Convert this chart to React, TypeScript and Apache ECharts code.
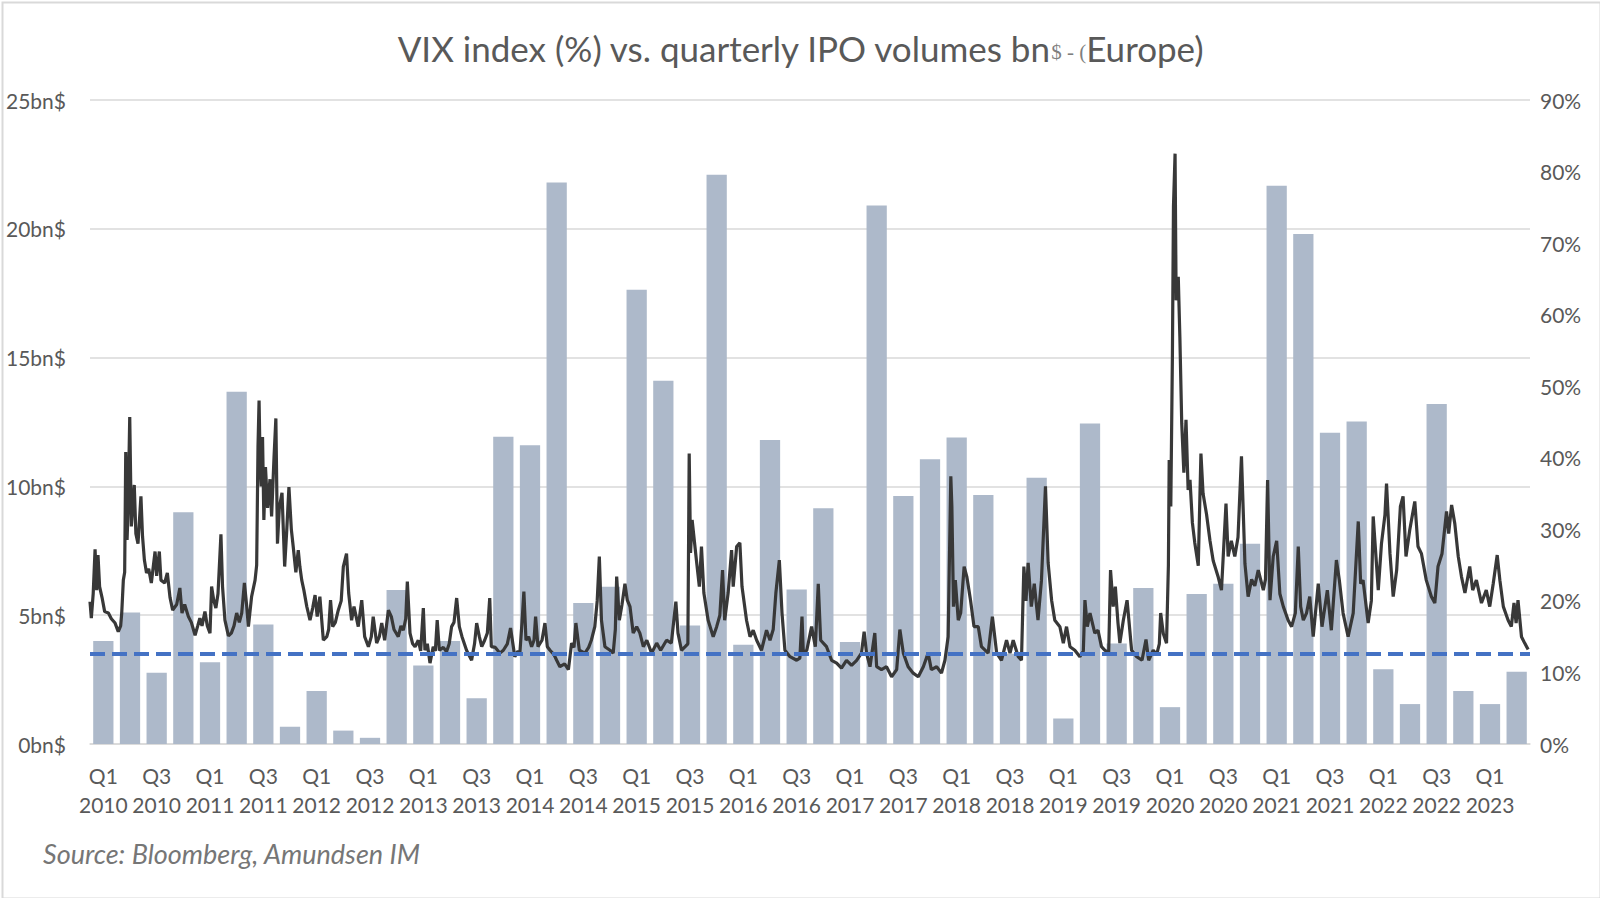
import React, { useEffect, useRef } from "react";
import * as echarts from "echarts";

// ---- Data ----
const years = [2010, 2011, 2012, 2013, 2014, 2015, 2016, 2017, 2018, 2019, 2020, 2021, 2022, 2023];
const quarterNames = ["Q1", "Q2", "Q3", "Q4"];
const quarterCount = 54; // Q1 2010 .. Q2 2023

// Quarterly European IPO volumes (bn$)
const ipoVolumes = [
  4.0, 5.1, 2.77, 9.0,
  3.17, 13.67, 4.64, 0.67,
  2.06, 0.52, 0.24, 5.98,
  3.05, 4.0, 1.78, 11.93,
  11.6, 21.8, 5.47, 6.1,
  17.63, 14.1, 4.6, 22.1,
  3.85, 11.8, 6.0, 9.15,
  3.96, 20.9, 9.63, 11.05,
  11.9, 9.67, 3.5, 10.34,
  0.99, 12.44, 3.9, 6.06,
  1.43, 5.82, 6.22, 7.77,
  21.67, 19.8, 12.08, 12.52,
  2.9, 1.55, 13.2, 2.06,
  1.55, 2.8,
];

// VIX index (%), [position in quarters since 1 Jan 2010, level]
const vixPoints: [number, number][] = [
  [0, 19.9], [0.05, 17.6], [0.12, 21], [0.19, 27.2], [0.25, 21.5], [0.3, 26.4], [0.36, 22], [0.45, 20.5], [0.55, 18.5], [0.69, 18.3], [0.8, 17.5], [0.94, 16.9],
  [1.06, 15.7], [1.15, 16.5], [1.19, 18.3], [1.25, 22.9], [1.3, 24], [1.34, 40.8], [1.39, 28.5], [1.43, 33], [1.49, 45.7], [1.55, 30.4], [1.6, 33], [1.66, 36.2], [1.72, 29.4], [1.8, 28], [1.91, 34.6], [1.97, 29],
  [2.04, 25.7], [2.12, 23.9], [2.2, 24.5], [2.3, 22.5], [2.44, 26.9], [2.5, 23.5], [2.6, 26.9], [2.66, 22.9], [2.8, 22.5], [2.9, 23.9],
  [3.0, 20.5], [3.1, 18.7], [3.25, 19.5], [3.37, 21.8], [3.45, 18.3], [3.55, 19.5], [3.69, 17.8], [3.8, 17], [3.94, 15.2],
  [4.04, 16.5], [4.12, 17.6], [4.2, 16.5], [4.31, 18.5], [4.4, 16.5], [4.5, 15.5], [4.56, 22], [4.64, 20.1], [4.72, 19], [4.8, 21], [4.91, 29.3], [4.97, 22],
  [5.06, 17.3], [5.19, 15.1], [5.3, 15.5], [5.4, 16.5], [5.5, 18.3], [5.6, 17], [5.69, 18.3], [5.79, 22.5], [5.87, 19.5], [5.94, 16.4],
  [6.06, 20.6], [6.19, 22.9], [6.25, 25], [6.3, 41.5], [6.34, 48], [6.38, 39.2], [6.42, 36], [6.47, 42.9], [6.52, 31.3], [6.58, 38.7], [6.66, 33], [6.75, 37], [6.81, 31.8], [6.9, 40], [6.97, 45.5],
  [7.03, 28], [7.1, 33], [7.2, 35.1], [7.3, 24.8], [7.38, 30], [7.46, 35.9], [7.55, 30], [7.62, 27.6], [7.72, 24], [7.81, 27.1], [7.87, 24.8], [7.94, 22.9],
  [8.02, 21.5], [8.13, 19.2], [8.25, 17.3], [8.35, 19], [8.44, 20.8], [8.52, 17.8], [8.62, 20.6], [8.75, 14.5], [8.88, 15], [8.95, 16],
  [9.02, 20.1], [9.1, 16.4], [9.2, 17], [9.31, 18.7], [9.42, 20], [9.5, 24.8], [9.62, 26.6], [9.7, 21.1], [9.81, 17.3], [9.9, 19.2],
  [10.06, 16.4], [10.19, 20.1], [10.3, 15], [10.44, 13.6], [10.55, 15], [10.62, 17.8], [10.75, 14.1], [10.85, 15], [10.94, 16.9],
  [11.05, 14.5], [11.19, 18.7], [11.3, 17.8], [11.4, 16], [11.56, 15], [11.66, 16.5], [11.75, 15.9], [11.84, 17.5], [11.9, 22.7],
  [12.0, 15.5], [12.1, 14], [12.19, 13.6], [12.31, 14.5], [12.4, 13], [12.5, 19], [12.56, 13.1], [12.65, 14], [12.75, 11.3], [12.87, 13.6], [12.95, 13],
  [13.02, 17.3], [13.1, 13.1], [13.25, 13.5], [13.37, 12.9], [13.47, 14], [13.56, 16.4], [13.65, 17], [13.75, 20.4], [13.85, 16.4], [13.95, 15],
  [14.12, 13.1], [14.2, 12.5], [14.31, 11.7], [14.42, 14], [14.5, 16.9], [14.6, 15], [14.69, 13.6], [14.8, 14.5], [14.9, 15.5], [14.99, 20.4],
  [15.05, 13.6], [15.2, 13.5], [15.37, 12.7], [15.5, 13.1], [15.65, 14], [15.77, 16.2], [15.93, 12.2],
  [16.05, 13], [16.12, 12.7], [16.2, 17], [16.27, 21.3], [16.35, 14.5], [16.45, 15], [16.56, 13.6], [16.65, 14.5], [16.71, 17.8], [16.8, 13.6], [16.95, 14.5],
  [17.06, 16.9], [17.15, 13.6], [17.25, 13.1], [17.4, 12.5], [17.5, 11.7], [17.62, 10.8], [17.8, 11.2], [17.94, 10.4],
  [18.06, 14.1], [18.15, 13.5], [18.22, 16.9], [18.35, 13.1], [18.56, 12.7], [18.7, 13.5], [18.8, 14.5], [18.93, 16.4],
  [19.02, 20], [19.1, 26.2], [19.18, 17.3], [19.31, 13.6], [19.5, 13.1], [19.62, 12.7], [19.7, 16], [19.75, 23.4], [19.85, 17.3], [19.95, 19.5],
  [20.06, 22.4], [20.15, 20.1], [20.25, 19.2], [20.37, 15.5], [20.5, 16.4], [20.62, 15.5], [20.75, 13.6], [20.88, 14.5],
  [21.06, 12.7], [21.25, 14.1], [21.4, 13.1], [21.62, 14.5], [21.8, 14.1], [21.97, 19.9],
  [22.05, 15.5], [22.18, 13.1], [22.32, 13.6], [22.42, 14], [22.47, 40.6], [22.52, 26.7], [22.58, 31.3], [22.74, 25.7], [22.85, 22], [22.93, 27.6],
  [23.02, 21.1], [23.18, 17.3], [23.37, 15], [23.5, 16.4], [23.62, 18], [23.72, 24.3], [23.8, 17.3], [23.93, 21.1],
  [24.06, 27.1], [24.12, 22], [24.25, 27.6], [24.37, 28.1], [24.45, 22], [24.62, 17.3], [24.75, 15], [24.87, 15.9],
  [25.0, 14.5], [25.18, 13.1], [25.37, 15.9], [25.5, 14.5], [25.62, 16], [25.72, 21.1], [25.85, 25.7], [25.95, 18.3],
  [26.06, 13.1], [26.25, 12.2], [26.5, 11.7], [26.62, 12], [26.7, 17.8], [26.75, 12.7], [26.88, 13.1],
  [27.06, 16.4], [27.2, 13.6], [27.31, 22.4], [27.4, 14.5], [27.62, 13.6], [27.81, 11.7],
  [28.0, 11.3], [28.18, 10.6], [28.37, 11.7], [28.56, 11.0], [28.75, 11.7], [28.93, 12.7],
  [29.03, 15.7], [29.12, 12.7], [29.25, 10.8], [29.43, 15.5], [29.5, 10.8], [29.68, 10.4], [29.87, 10.8],
  [30.06, 9.4], [30.25, 10.4], [30.37, 16], [30.5, 12.7], [30.68, 10.8], [30.87, 9.9],
  [31.06, 9.4], [31.25, 10.8], [31.43, 12.7], [31.55, 10.4], [31.75, 10.8], [31.93, 9.9],
  [32.06, 11.7], [32.18, 15], [32.28, 37.4], [32.32, 33.2], [32.38, 19.2], [32.45, 22.9], [32.56, 17.3], [32.65, 18.3], [32.78, 24.8], [32.88, 23.4],
  [33.02, 20.1], [33.15, 16.4], [33.31, 16.4], [33.43, 13.6], [33.68, 12.7], [33.84, 17.8],
  [34.0, 12.7], [34.18, 11.7], [34.37, 14.5], [34.5, 12.7], [34.62, 14.5], [34.81, 12.2], [34.93, 11.7],
  [35.02, 24.8], [35.1, 20], [35.18, 25.3], [35.3, 19.2], [35.41, 22.4], [35.55, 17.3], [35.68, 22.9], [35.83, 36], [35.93, 25.3],
  [36.06, 20.1], [36.18, 17.3], [36.37, 16.4], [36.5, 14.1], [36.62, 16.4], [36.75, 13.6], [36.93, 13.1],
  [37.12, 12.2], [37.25, 13], [37.31, 20.1], [37.4, 16.4], [37.5, 18.3], [37.68, 15.5], [37.8, 15.9], [37.93, 13.6],
  [38.06, 13.1], [38.2, 12.7], [38.27, 24.3], [38.37, 19.2], [38.45, 22], [38.55, 16.9], [38.62, 14.1], [38.75, 17.3], [38.89, 20.1],
  [39.06, 13.1], [39.25, 12.2], [39.45, 11.7], [39.6, 14.6], [39.7, 11.7], [39.87, 13.1],
  [40.0, 12.5], [40.1, 14], [40.15, 18.3], [40.25, 15.4], [40.37, 14.1], [40.44, 25], [40.47, 39.7], [40.53, 33.2], [40.59, 54.1], [40.63, 75.1], [40.69, 82.5], [40.73, 62], [40.81, 65.3], [40.87, 56.9], [40.94, 44.8],
  [41.02, 37.9], [41.1, 45.3], [41.18, 35.5], [41.25, 36.9], [41.34, 30.9], [41.43, 28.1], [41.56, 24.9], [41.66, 40.6], [41.74, 35], [41.87, 32.1],
  [42.0, 28.4], [42.12, 25.6], [42.31, 23.3], [42.43, 21.5], [42.6, 33.6], [42.68, 26.2], [42.8, 28.4], [42.93, 26.2],
  [43.05, 28.9], [43.18, 40.2], [43.31, 25.2], [43.43, 20.6], [43.56, 23], [43.68, 22.1], [43.81, 24.3],
  [44.0, 21.5], [44.08, 23], [44.16, 36.9], [44.25, 20.1], [44.37, 26.2], [44.5, 28.4], [44.62, 21], [44.75, 19.2], [44.93, 17.3],
  [45.06, 16.4], [45.2, 18.3], [45.31, 27.6], [45.4, 19.2], [45.5, 17.3], [45.62, 18.3], [45.74, 20.6], [45.87, 15],
  [46.06, 22.4], [46.2, 16.4], [46.4, 21.5], [46.55, 15.9], [46.74, 25.7], [46.85, 22.9], [46.99, 18.3],
  [47.18, 15], [47.37, 18.3], [47.56, 31.1], [47.65, 22.4], [47.74, 22.9], [47.93, 16.9],
  [48.05, 20], [48.12, 31.8], [48.31, 21.5], [48.43, 28], [48.56, 32], [48.62, 36.4], [48.75, 26.6], [48.87, 20.6],
  [49.0, 24.3], [49.14, 33.2], [49.24, 34.6], [49.35, 26.2], [49.49, 29.9], [49.68, 33.9], [49.8, 27.6], [49.93, 26.6],
  [50.11, 22.9], [50.3, 20.6], [50.43, 19.7], [50.55, 24.8], [50.7, 26.6], [50.87, 32.5], [50.95, 29.4],
  [51.06, 33.4], [51.18, 30.8], [51.31, 26.2], [51.43, 23.4], [51.56, 21.1], [51.74, 24.8], [51.85, 21.5], [51.99, 22.9],
  [52.18, 19.7], [52.36, 21.5], [52.49, 19.2], [52.62, 22.4], [52.77, 26.4], [52.87, 22.9],
  [53.0, 19.2], [53.18, 17.3], [53.3, 16.4], [53.4, 19.7], [53.48, 16.9], [53.55, 20.1], [53.68, 15], [53.8, 14.1], [53.93, 13.2],
];

const thresholdBn = 3.5; // dashed reference line
const leftTicks = { min: 0, max: 25, interval: 5 };
const rightTicks = { min: 0, max: 90, interval: 10 };

const categories: string[] = [];
for (const y of years) {
  for (const q of quarterNames) {
    if (categories.length < quarterCount) categories.push(`${q}\n${y}`);
  }
}

const FONT = "Lato, 'Noto Sans', sans-serif";
const TEXT = "#595959";

export default function App() {
  const ref = useRef<HTMLDivElement>(null);

  useEffect(() => {
    document.body.style.margin = "0";
    if (!ref.current) return;
    const chart = echarts.init(ref.current, undefined, { renderer: "svg" });
    chart.setOption({
      animation: false,
      backgroundColor: "#ffffff",
      textStyle: { fontFamily: FONT },
      title: {
        text: "{a|VIX index (%) vs. quarterly IPO volumes bn}{b|$ - (}{a|Europe)}",
        left: "center",
        top: 25,
        textStyle: {
          fontWeight: "normal",
          rich: {
            a: { fontSize: 35, color: TEXT, fontFamily: FONT, fontWeight: "normal" },
            b: { fontSize: 21, color: "#7f7f7f", fontFamily: "'Liberation Serif', serif", fontWeight: "normal", padding: [8, 0, 0, 0] },
          },
        },
      },
      grid: { left: 90, right: 70, top: 100, bottom: 154 },
      xAxis: [
        {
          type: "category",
          data: categories,
          axisTick: { show: false },
          axisLine: { show: true, lineStyle: { color: "#d9d9d9", width: 1.5 } },
          axisLabel: {
            interval: 1,
            color: TEXT,
            fontSize: 21,
            lineHeight: 29,
            margin: 17,
            fontFamily: FONT,
          },
        },
        { type: "value", min: 0, max: quarterCount, show: false },
      ],
      yAxis: [
        {
          type: "value",
          ...leftTicks,
          axisLine: { show: false },
          axisTick: { show: false },
          splitLine: { lineStyle: { color: "#d9d9d9", width: 1.5 } },
          axisLabel: { formatter: "{value}bn$", color: TEXT, fontSize: 21, margin: 24, fontFamily: FONT },
        },
        {
          type: "value",
          ...rightTicks,
          position: "right",
          axisLine: { show: false },
          axisTick: { show: false },
          splitLine: { show: false },
          axisLabel: { formatter: "{value}%", color: TEXT, fontSize: 21, margin: 10, fontFamily: FONT },
        },
      ],
      series: [
        {
          name: "IPO volumes",
          type: "bar",
          data: ipoVolumes,
          barCategoryGap: "24%",
          itemStyle: { color: "#adb9ca" },
          markLine: {
            silent: true,
            symbol: "none",
            label: { show: false },
            lineStyle: { color: "#4472c4", width: 4, type: [15, 7] },
            data: [{ yAxis: thresholdBn }],
          },
          z: 2,
        },
        {
          name: "VIX",
          type: "line",
          xAxisIndex: 1,
          yAxisIndex: 1,
          data: vixPoints,
          symbol: "none",
          lineStyle: { color: "#383838", width: 3.2 },
          z: 4,
        },
      ],
      graphic: [
        {
          type: "rect",
          left: 0,
          top: 0,
          shape: { x: 1, y: 1, width: 1598, height: 896 },
          style: { fill: "none", stroke: "#d9d9d9", lineWidth: 2 },
          silent: true,
        },
        {
          type: "text",
          left: 43,
          top: 840,
          style: {
            text: "Source: Bloomberg, Amundsen IM",
            fontSize: 27,
            fontStyle: "italic",
            fill: "#767676",
            fontFamily: FONT,
          },
        },
      ],
    });
    return () => chart.dispose();
  }, []);

  return <div ref={ref} style={{ width: 1600, height: 898 }} />;
}
